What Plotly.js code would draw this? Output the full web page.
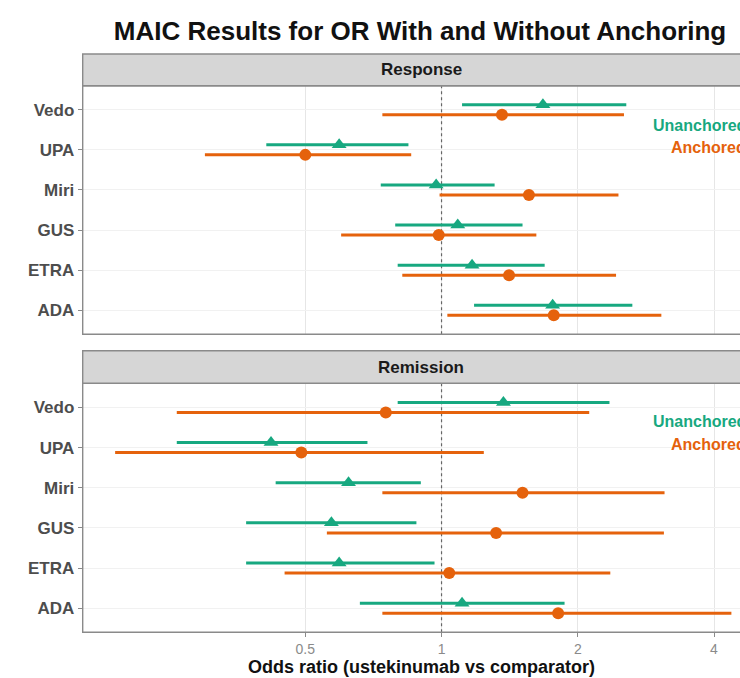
<!DOCTYPE html>
<html>
<head>
<meta charset="utf-8">
<script src="https://cdn.plot.ly/plotly-3.0.1.min.js"></script>
<style>
  html, body { margin: 0; padding: 0; background: #ffffff; overflow: hidden; }
  #chart { width: 740px; height: 678px; }
</style>
</head>
<body>
<div id="chart"></div>
<script>
// ---------- data (top to bottom order) ----------
const categories = ['Vedo', 'UPA', 'Miri', 'GUS', 'ETRA', 'ADA'];

// Response panel
const respUnanchoredOR = [1.675, 0.594, 0.973, 1.086, 1.168, 1.76];
const respUnanchoredLo = [1.11, 0.41, 0.734, 0.79, 0.80, 1.18];
const respUnanchoredHi = [2.56, 0.845, 1.31, 1.51, 1.69, 2.64];

const respAnchoredOR = [1.36, 0.50, 1.56, 0.986, 1.41, 1.77];
const respAnchoredLo = [0.74, 0.30, 0.99, 0.60, 0.819, 1.03];
const respAnchoredHi = [2.53, 0.857, 2.46, 1.62, 2.43, 3.06];

// Remission panel
const remUnanchoredOR = [1.37, 0.42, 0.623, 0.571, 0.594, 1.11];
const remUnanchoredLo = [0.80, 0.26, 0.43, 0.37, 0.37, 0.66];
const remUnanchoredHi = [2.35, 0.686, 0.90, 0.88, 0.965, 1.87];

const remAnchoredOR = [0.753, 0.49, 1.51, 1.32, 1.04, 1.81];
const remAnchoredLo = [0.26, 0.19, 0.74, 0.558, 0.45, 0.74];
const remAnchoredHi = [2.12, 1.24, 3.11, 3.10, 2.36, 4.37];

const xTickVals = [0.5, 1, 2, 4];
const xTickText = ['0.5', '1', '2', '4'];
const referenceOR = 1;

const panelTitles = ['Response', 'Remission'];
const seriesNames = ['Unanchored', 'Anchored'];

// ---------- styling ----------
const W = 740, H = 678;
const TEAL = '#17a880';
const ORANGE = '#e5620c';
const FONT = 'Liberation Sans, Arial, Helvetica, sans-serif';
const px = v => v / W;            // pixel -> paper x
const py = v => 1 - v / H;        // pixel -> paper y

const xLeft = 82.7;
const topPanel = [85.7, 334.3], botPanel = [383.3, 632.3];
const topStrip = [54, 85.7], botStrip = [350.7, 383.3];
const dodge = 0.125;
const yRange = [0.4, 6.6];

const catPos = categories.map((c, i) => categories.length - i);

function refLine(xa, ya) {
  return {
    type: 'scatter', mode: 'lines', showlegend: false, hoverinfo: 'skip',
    x: [referenceOR, referenceOR], y: yRange, xaxis: xa, yaxis: ya,
    line: { color: '#666666', width: 1.2, dash: 'dot' }
  };
}

function trace(or, lo, hi, offset, color, symbol, size, xa, ya, name) {
  return {
    type: 'scatter', mode: 'markers', name: name, showlegend: false,
    x: or, y: catPos.map(p => p + offset),
    xaxis: xa, yaxis: ya,
    marker: { color: color, symbol: symbol, size: size, line: { width: 0 } },
    error_x: {
      type: 'data', symmetric: false,
      array: hi.map((h, i) => h - or[i]),
      arrayminus: lo.map((l, i) => or[i] - l),
      color: color, thickness: 3, width: 0
    },
    hoverinfo: 'x+name'
  };
}

const data = [
  refLine('x2', 'y2'),
  refLine('x', 'y'),
  trace(respUnanchoredOR, respUnanchoredLo, respUnanchoredHi, dodge, TEAL, 'triangle-up', 13, 'x2', 'y2', seriesNames[0]),
  trace(respAnchoredOR, respAnchoredLo, respAnchoredHi, -dodge, ORANGE, 'circle', 12, 'x2', 'y2', seriesNames[1]),
  trace(remUnanchoredOR, remUnanchoredLo, remUnanchoredHi, dodge, TEAL, 'triangle-up', 13, 'x', 'y', seriesNames[0]),
  trace(remAnchoredOR, remAnchoredLo, remAnchoredHi, -dodge, ORANGE, 'circle', 12, 'x', 'y', seriesNames[1])
];

const xRange = [-0.7929, 0.6595];
const baseX = {
  type: 'log', range: xRange, domain: [px(xLeft), 1],
  tickvals: xTickVals, ticktext: xTickText,
  showgrid: true, gridcolor: '#e6e6e6', gridwidth: 1,
  zeroline: false, showline: false, automargin: false,
  tickfont: { family: FONT, size: 14, color: '#8a8a8a' }
};
const baseY = {
  range: yRange, tickvals: catPos, ticktext: categories,
  showgrid: true, gridcolor: '#f1f1f1', gridwidth: 1,
  zeroline: false, showline: false, automargin: false,
  ticks: 'outside', ticklen: 4, tickcolor: '#8a8a8a', tickwidth: 1,
  tickfont: { family: FONT, size: 17, color: '#4d4d4d', weight: 'bold' }
};

const shapes = [];
// panel borders (extend beyond the visible right edge)
[topPanel, botPanel].forEach(p => {
  shapes.push({ type: 'rect', xref: 'paper', yref: 'paper', x0: px(xLeft), x1: 1.1,
    y0: py(p[1]), y1: py(p[0]), line: { color: '#8a8a8a', width: 1.4 }, fillcolor: 'rgba(0,0,0,0)', layer: 'above' });
});
// strip headers
[topStrip, botStrip].forEach(s => {
  shapes.push({ type: 'rect', xref: 'paper', yref: 'paper', x0: px(xLeft), x1: 1.1,
    y0: py(s[1]), y1: py(s[0]), line: { color: '#8a8a8a', width: 1.4 }, fillcolor: '#d6d6d6', layer: 'above' });
});

const annotations = [
  { text: panelTitles[0], xref: 'paper', yref: 'paper', x: px(421), y: py((topStrip[0] + topStrip[1]) / 2),
    xanchor: 'center', yanchor: 'middle', showarrow: false,
    font: { family: FONT, size: 17, color: '#1a1a1a', weight: 'bold' } },
  { text: panelTitles[1], xref: 'paper', yref: 'paper', x: px(421), y: py((botStrip[0] + botStrip[1]) / 2),
    xanchor: 'center', yanchor: 'middle', showarrow: false,
    font: { family: FONT, size: 17, color: '#1a1a1a', weight: 'bold' } },
  { text: seriesNames[0], xref: 'paper', yref: 'paper', x: px(748), y: py(125),
    xanchor: 'right', yanchor: 'middle', showarrow: false,
    font: { family: FONT, size: 16, color: TEAL, weight: 'bold' } },
  { text: seriesNames[1], xref: 'paper', yref: 'paper', x: px(748), y: py(147),
    xanchor: 'right', yanchor: 'middle', showarrow: false,
    font: { family: FONT, size: 16, color: ORANGE, weight: 'bold' } },
  { text: seriesNames[0], xref: 'paper', yref: 'paper', x: px(748), y: py(421),
    xanchor: 'right', yanchor: 'middle', showarrow: false,
    font: { family: FONT, size: 16, color: TEAL, weight: 'bold' } },
  { text: seriesNames[1], xref: 'paper', yref: 'paper', x: px(748), y: py(444),
    xanchor: 'right', yanchor: 'middle', showarrow: false,
    font: { family: FONT, size: 16, color: ORANGE, weight: 'bold' } },
  { text: 'Odds ratio (ustekinumab vs comparator)', xref: 'paper', yref: 'paper', x: px(421), y: py(667),
    xanchor: 'center', yanchor: 'middle', showarrow: false,
    font: { family: FONT, size: 18, color: '#111111', weight: 'bold' } }
];

const layout = {
  width: W, height: H,
  margin: { l: 0, r: 0, t: 0, b: 0, pad: 0 },
  paper_bgcolor: '#ffffff', plot_bgcolor: '#ffffff',
  showlegend: false,
  title: { text: 'MAIC Results for OR With and Without Anchoring',
    x: px(420), xanchor: 'center', xref: 'paper', y: py(31), yref: 'container', yanchor: 'middle',
    font: { family: FONT, size: 26, color: '#111111', weight: 'bold' } },
  xaxis: Object.assign({}, baseX, { anchor: 'y', ticks: 'outside', ticklen: 4, tickcolor: '#8a8a8a', showticklabels: true }),
  xaxis2: Object.assign({}, baseX, { anchor: 'y2', ticks: '', showticklabels: false }),
  yaxis: Object.assign({}, baseY, { anchor: 'x', domain: [py(botPanel[1]), py(botPanel[0])] }),
  yaxis2: Object.assign({}, baseY, { anchor: 'x2', domain: [py(topPanel[1]), py(topPanel[0])] }),
  shapes: shapes,
  annotations: annotations
};

Plotly.newPlot('chart', data, layout, { displayModeBar: false, staticPlot: true });
</script>
</body>
</html>
